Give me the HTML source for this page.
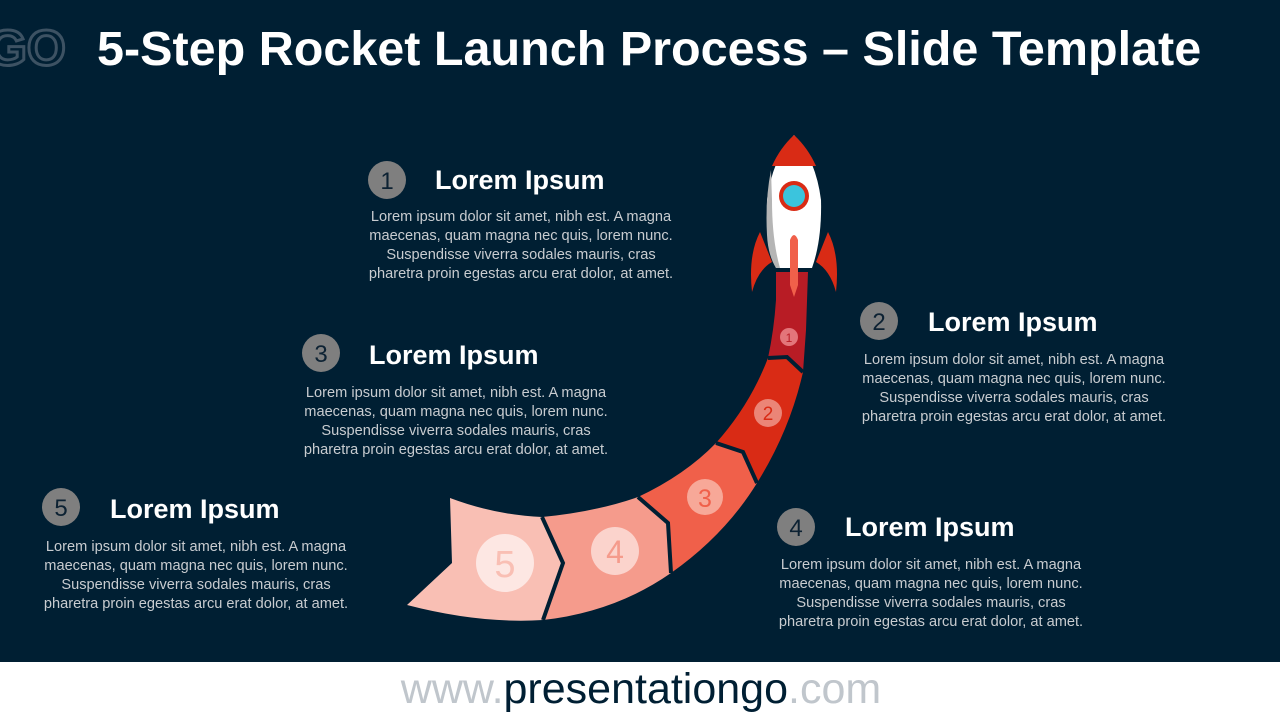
<!DOCTYPE html>
<html><head><meta charset="utf-8"><style>
body{margin:0;width:1280px;height:720px;overflow:hidden;background:#001f33;font-family:"Liberation Sans",sans-serif;}
</style></head><body>
<svg width="1280" height="720" viewBox="0 0 1280 720" xmlns="http://www.w3.org/2000/svg" style="position:absolute;left:0;top:0">
<rect width="1280" height="720" fill="#001f33"/>
<rect y="662" width="1280" height="58" fill="#ffffff"/>
<text x="-12" y="65" font-size="50" font-weight="bold" fill="none" stroke="#3d5263" stroke-width="3" font-family="Liberation Sans">GO</text>
<text x="97" y="65" font-size="48.5" font-weight="bold" fill="#ffffff" font-family="Liberation Sans">5-Step Rocket Launch Process – Slide Template</text>
<text x="641" y="703" font-size="43" text-anchor="middle" font-family="Liberation Sans" fill="#001f33"><tspan fill="#c0c6cc">www.</tspan>presentationgo<tspan fill="#c0c6cc">.com</tspan></text>

<path d="M776,272 L808,272 L806,330 L803,372 L787,357 L768,358 Q774,330 776,300 Z" fill="#b81c25"/>
<path d="M768,358 L787,357 L803,372 Q790,430 757,483 L743,452 L716,443 Q750,405 768,358 Z" fill="#d92b15"/>
<path d="M716,443 L743,452 L757,483 Q725,535 671,573 L668,523 L638,497 Q685,475 716,443 Z" fill="#f0604a"/>
<path d="M638,497 L668,523 L671,573 Q615,612 543,620 L563,563 L542,517 Q595,512 638,497 Z" fill="#f59b8c"/>
<path d="M542,517 L563,563 L543,620 Q480,624 407,605 L452,563 L450,498 Q495,515 542,517 Z" fill="#f9bfb4"/>
<g stroke="#001f33" stroke-width="4" fill="none" stroke-linejoin="miter">
<polyline points="768,358 787,357 803,372"/>
<polyline points="716,443 743,452 757,483"/>
<polyline points="638,497 668,523 671,573"/>
<polyline points="542,517 563,563 543,620"/>
</g>
<g font-family="Liberation Sans" text-anchor="middle">
<circle cx="789" cy="337" r="9" fill="#e3757a"/><text x="789" y="342" font-size="12" fill="#b81c25">1</text>
<circle cx="768" cy="413" r="14" fill="#eb8577"/><text x="768" y="420" font-size="19" fill="#d92b15">2</text>
<circle cx="705" cy="497" r="18" fill="#f7a898"/><text x="705" y="507" font-size="25" fill="#f0604a">3</text>
<circle cx="615" cy="551" r="24" fill="#fbd3cc"/><text x="615" y="563" font-size="32" fill="#f59b8c">4</text>
<circle cx="505" cy="563" r="29" fill="#fde7e3"/><text x="505" y="577" font-size="38" fill="#f9bfb4">5</text>
</g>

<path d="M760,232 Q748,255 752,292 Q758,270 772,262 Z" fill="#d92b15"/>
<path d="M828,232 Q840,255 836,292 Q830,270 816,262 Z" fill="#d92b15"/>
<path d="M794,135 Q772,160 767,200 Q766,240 776,268 L812,268 Q822,240 821,200 Q816,160 794,135 Z" fill="#ffffff"/>
<path d="M771,170 Q765,200 767,235 Q768,255 776,268 L780,268 Q772,240 772,200 Z" fill="#b5b5b5"/>
<path d="M794,135 Q780,148 772,166 L816,166 Q808,148 794,135 Z" fill="#d92b15"/>
<circle cx="794" cy="196" r="15" fill="#d92b15"/>
<circle cx="794" cy="196" r="11" fill="#3bc4dd"/>
<path d="M790,240 Q794,230 798,240 L798,285 L794,297 L790,285 Z" fill="#f0604a"/>

<g font-family="Liberation Sans" text-anchor="middle" font-size="24" fill="#0d2233">
<circle cx="387" cy="180" r="19" fill="#7f7f7f"/><text x="387" y="189">1</text>
<circle cx="879" cy="321" r="19" fill="#7f7f7f"/><text x="879" y="330">2</text>
<circle cx="321" cy="353" r="19" fill="#7f7f7f"/><text x="321" y="362">3</text>
<circle cx="796" cy="527" r="19" fill="#7f7f7f"/><text x="796" y="536">4</text>
<circle cx="61" cy="507" r="19" fill="#7f7f7f"/><text x="61" y="516">5</text>
</g>
<g font-family="Liberation Sans" font-weight="bold" font-size="27" fill="#ffffff">
<text x="435" y="189">Lorem Ipsum</text>
<text x="928" y="331">Lorem Ipsum</text>
<text x="369" y="364">Lorem Ipsum</text>
<text x="845" y="536">Lorem Ipsum</text>
<text x="110" y="518">Lorem Ipsum</text>
</g>
<g font-family="Liberation Sans" font-size="14.6" fill="#c8ccd0" text-anchor="middle">
<text x="521" y="221">Lorem ipsum dolor sit amet, nibh est. A magna</text>
<text x="521" y="240">maecenas, quam magna nec quis, lorem nunc.</text>
<text x="521" y="259">Suspendisse viverra sodales mauris, cras</text>
<text x="521" y="278">pharetra proin egestas arcu erat dolor, at amet.</text>
<text x="1014" y="364">Lorem ipsum dolor sit amet, nibh est. A magna</text>
<text x="1014" y="383">maecenas, quam magna nec quis, lorem nunc.</text>
<text x="1014" y="402">Suspendisse viverra sodales mauris, cras</text>
<text x="1014" y="421">pharetra proin egestas arcu erat dolor, at amet.</text>
<text x="456" y="397">Lorem ipsum dolor sit amet, nibh est. A magna</text>
<text x="456" y="416">maecenas, quam magna nec quis, lorem nunc.</text>
<text x="456" y="435">Suspendisse viverra sodales mauris, cras</text>
<text x="456" y="454">pharetra proin egestas arcu erat dolor, at amet.</text>
<text x="931" y="569">Lorem ipsum dolor sit amet, nibh est. A magna</text>
<text x="931" y="588">maecenas, quam magna nec quis, lorem nunc.</text>
<text x="931" y="607">Suspendisse viverra sodales mauris, cras</text>
<text x="931" y="626">pharetra proin egestas arcu erat dolor, at amet.</text>
<text x="196" y="551">Lorem ipsum dolor sit amet, nibh est. A magna</text>
<text x="196" y="570">maecenas, quam magna nec quis, lorem nunc.</text>
<text x="196" y="589">Suspendisse viverra sodales mauris, cras</text>
<text x="196" y="608">pharetra proin egestas arcu erat dolor, at amet.</text>
</g>
</svg>
</body></html>
